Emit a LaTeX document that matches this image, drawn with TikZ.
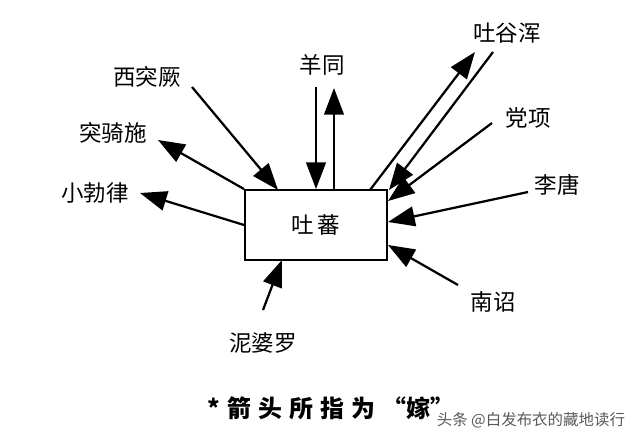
\documentclass[tikz,border=0pt]{standalone}
\usepackage{fontspec}
\newfontfamily\cjk{Noto Sans CJK SC}
\usetikzlibrary{arrows.meta, positioning}

\begin{document}
\begin{tikzpicture}[
  x=0.025cm, y=-0.025cm,
  label/.style={font=\cjk\fontsize{16}{16}\selectfont, inner sep=1pt},
  statebox/.style={rectangle, draw=black, line width=1.3pt,
                   minimum width=3.55cm, minimum height=1.75cm, inner sep=0pt,
                   font=\cjk\fontsize{16}{16}\selectfont},
  arrow/.style={-{Triangle[length=19pt, width=14pt]}, line width=1.6pt}
]
\useasboundingbox (0,0) rectangle (640,442);

% central box
\node[statebox] (tubo) at (316,225) {吐\,蕃};

% neighbours
\node[label] (yangtong) at (322,65) {羊同};
\node[label] (xitujue)  at (147,77) {西突厥};
\node[label] (tuqishi)  at (113,133) {突骑施};
\node[label] (xiaobolv) at (95,193) {小勃律};
\node[label] (tuyuhun)  at (507,33) {吐谷浑};
\node[label] (dangxiang) at (528,118) {党项};
\node[label] (litang)   at (557,185) {李唐};
\node[label] (nanzhao)  at (493,302) {南诏};
\node[label] (niboluo)  at (263,343) {泥婆罗};

% free ends
\coordinate (yt-a) at (316,87);
\coordinate (yt-b) at (334,190);
\coordinate (yt-c) at (334,88);
\coordinate (xtj-a) at (192,87);
\coordinate (xtj-b) at (278,190);
\coordinate (tqs-b) at (158,140);
\coordinate (xbl-b) at (140,193);
\coordinate (tyh-a) at (370,190);
\coordinate (tyh-b) at (475,52);
\coordinate (tyh-c) at (493,52);
\coordinate (tyh-d) at (389,190);
\coordinate (dx-a) at (492,123);
\coordinate (dx-b) at (388,201);
\coordinate (lt-a) at (528,192);
\coordinate (lt-b) at (388,222);
\coordinate (nz-a) at (458,285);
\coordinate (nz-b) at (388,245);
\coordinate (nbl-a) at (263,310);
\coordinate (nbl-b) at (282,260);

\draw[arrow] (yt-a) -- (tubo.north);
\draw[arrow] (yt-b) -- (yt-c);
\draw[arrow] (xtj-a) -- (xtj-b);
\draw[arrow] (tubo.north west) -- (tqs-b);
\draw[arrow] (tubo.west) -- (xbl-b);
\draw[arrow] (tyh-a) -- (tyh-b);
\draw[arrow] (tyh-c) -- (tyh-d);
\draw[arrow] (dx-a) -- (dx-b);
\draw[arrow] (lt-a) -- (lt-b);
\draw[arrow] (nz-a) -- (nz-b);
\draw[arrow] (nbl-a) -- (nbl-b);

% caption
\node[font=\cjk\bfseries\fontsize{17}{17}\selectfont, anchor=west] (note) at (203,408)
  {*\hspace{5pt}箭\hspace{5pt}头\hspace{5pt}所\hspace{5pt}指\hspace{5pt}为\hspace{5pt}“嫁”};
\node[font=\cjk\fontsize{11}{12}\selectfont, text=black!65, anchor=east] (mark) at (630,420)
  {头条 @白发布衣的藏地读行};
\end{tikzpicture}
\end{document}
